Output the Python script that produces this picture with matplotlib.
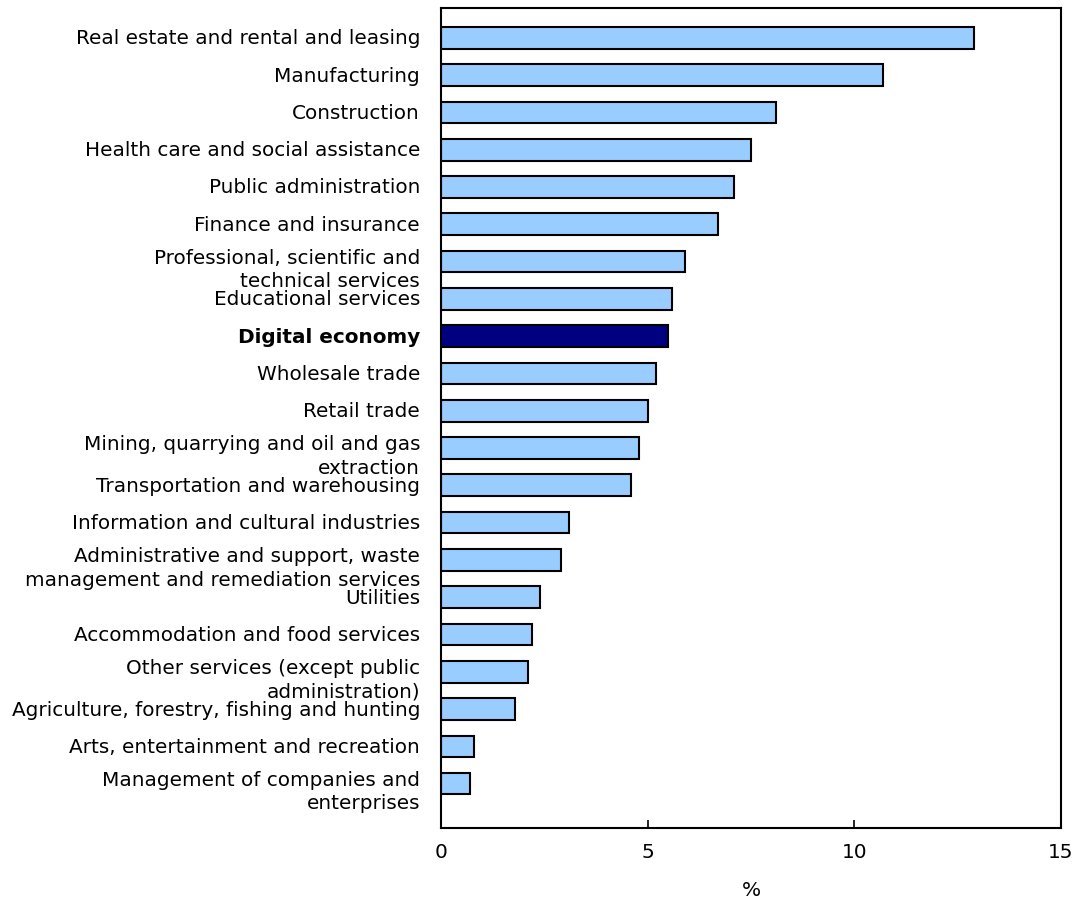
import matplotlib
matplotlib.use("Agg")
import matplotlib.pyplot as plt
from matplotlib.transforms import blended_transform_factory, ScaledTranslation

categories = [
    "Real estate and rental and leasing",
    "Manufacturing",
    "Construction",
    "Health care and social assistance",
    "Public administration",
    "Finance and insurance",
    "Professional, scientific and\ntechnical services",
    "Educational services",
    "Digital economy",
    "Wholesale trade",
    "Retail trade",
    "Mining, quarrying and oil and gas\nextraction",
    "Transportation and warehousing",
    "Information and cultural industries",
    "Administrative and support, waste\nmanagement and remediation services",
    "Utilities",
    "Accommodation and food services",
    "Other services (except public\nadministration)",
    "Agriculture, forestry, fishing and hunting",
    "Arts, entertainment and recreation",
    "Management of companies and\nenterprises",
]
values = [12.9, 10.7, 8.1, 7.5, 7.1, 6.7, 5.9, 5.6, 5.5, 5.2, 5.0, 4.8, 4.6,
          3.1, 2.9, 2.4, 2.2, 2.1, 1.8, 0.8, 0.7]
highlight = "Digital economy"
xticks = [0, 5, 10, 15]

plt.rcParams["font.family"] = "DejaVu Sans"
fs = 14.4

fig = plt.figure(figsize=(10.75, 9.04), dpi=100)
ax = fig.add_axes([441 / 1075, 1 - 829 / 904, 620 / 1075, (829 - 9) / 904])

pos = list(range(len(categories)))
colors = ["#000080" if c == highlight else "#99CCFF" for c in categories]
ax.barh(pos, values, height=0.58, color=colors, edgecolor="black", linewidth=1.5)

ax.set_xlim(0, 15)
ax.set_ylim(len(categories) - 1 + 1.19, -0.8)
ax.set_xticks(xticks)
ax.set_xticklabels([str(t) for t in xticks], fontsize=fs)
ax.tick_params(axis="x", direction="in", length=6, width=1.2, pad=10)
ax.set_yticks([])
for s in ax.spines.values():
    s.set_linewidth(1.5)

ax.set_xlabel("%", fontsize=fs, labelpad=14)

trans = blended_transform_factory(ax.transAxes, ax.transData) + \
    ScaledTranslation(-21 / 100, 0, fig.dpi_scale_trans)
for i, c in enumerate(categories):
    y = i + 0.2 if "\n" in c else i
    ax.text(0, y, c, transform=trans, ha="right", va="center",
            multialignment="right", fontsize=fs, linespacing=1.3,
            fontweight="bold" if c == highlight else "normal")

fig.savefig("out.png", dpi=100)
